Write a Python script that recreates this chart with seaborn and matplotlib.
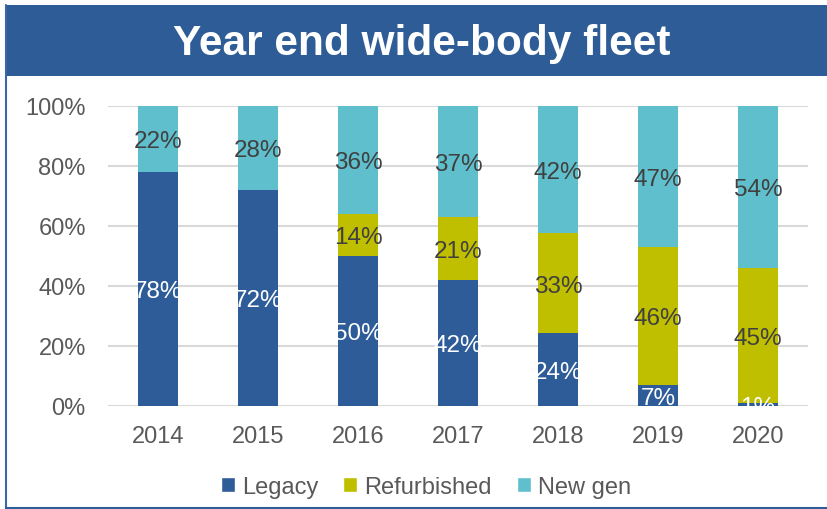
import numpy as np
import pandas as pd
import matplotlib
matplotlib.use("Agg")
import matplotlib.pyplot as plt
from matplotlib.patches import Rectangle
from matplotlib.lines import Line2D
import seaborn as sns

years = ["2014", "2015", "2016", "2017", "2018", "2019", "2020"]
legacy = [78, 72, 50, 42, 24, 7, 1]
refurbished = [0, 0, 14, 21, 33, 46, 45]
new_gen = [22, 28, 36, 37, 42, 47, 54]
series_names = ["Legacy", "Refurbished", "New gen"]
y_ticks = [0, 20, 40, 60, 80, 100]

colors = {"Legacy": "#2E5C99", "Refurbished": "#BFBF00", "New gen": "#5FBFCC"}
label_colors = {"Legacy": "white", "Refurbished": "#404040", "New gen": "#404040"}

sns.set_theme(style="white")
plt.rcParams["font.family"] = ["Liberation Sans", "DejaVu Sans"]

df = pd.DataFrame({"year": years, "Legacy": legacy,
                   "Refurbished": refurbished, "New gen": new_gen})
totals = df[series_names].sum(axis=1)
# 100% stacked: each segment is its share of the year's total
shares = df[series_names].div(totals, axis=0) * 100

fig = plt.figure(figsize=(8.28, 5.10), dpi=100)
W, H = 828, 510
ax = fig.add_axes([108 / W, (H - 407) / H, 700 / W, 300 / H])

bottom = np.zeros(len(years))
for name in series_names:
    sns.barplot(x=years, y=shares[name].values, bottom=bottom, ax=ax,
                color=colors[name], width=0.4, linewidth=0, saturation=1,
                zorder=3)
    for i, (val, share) in enumerate(zip(df[name], shares[name])):
        if val > 0:
            ax.text(i, bottom[i] + share / 2, f"{val}%", ha="center",
                    va="center_baseline", fontsize=17.5,
                    color=label_colors[name], zorder=5, clip_on=True)
    bottom = bottom + shares[name].values

ax.set_ylim(0, 100)
ax.set_xlim(-0.5, len(years) - 0.5)
ax.set_yticks(y_ticks)
ax.set_yticklabels([f"{t}%" for t in y_ticks])
ax.yaxis.grid(True, color="#D9D9D9", linewidth=1.5, zorder=0)
ax.set_axisbelow(True)
for s in ax.spines.values():
    s.set_visible(False)
ax.tick_params(axis="both", length=0, labelsize=17, colors="#595959")
ax.tick_params(axis="y", pad=16)
ax.tick_params(axis="x", pad=14)
ax.set_xlabel("")
ax.set_ylabel("")

# Title banner and frame lines
fig.patches.append(Rectangle((6 / W, (H - 77) / H), (W - 6) / W, 71 / H,
                             transform=fig.transFigure, facecolor="#2E5C96",
                             edgecolor="none", zorder=0))
fig.lines.append(Line2D([6 / W, 6 / W], [0, (H - 6) / H],
                        transform=fig.transFigure, color="#3A67A8", linewidth=1.5))
fig.lines.append(Line2D([6 / W, 1], [1.5 / H, 1.5 / H],
                        transform=fig.transFigure, color="#2E5C96", linewidth=1.5))
fig.text(422 / W, (H - 44) / H, "Year end wide-body fleet", ha="center",
         va="center", fontsize=30.5, fontweight="bold", color="white")

handles = [Rectangle((0, 0), 1, 1, facecolor=colors[n]) for n in series_names]
fig.legend(handles, series_names, loc="center", ncol=3,
           bbox_to_anchor=(426 / W, (H - 488) / H), frameon=False,
           fontsize=17, labelcolor="#595959", handlelength=0.6,
           handleheight=0.6, handletextpad=0.3, columnspacing=1.05)

fig.savefig("out.png", dpi=100)
